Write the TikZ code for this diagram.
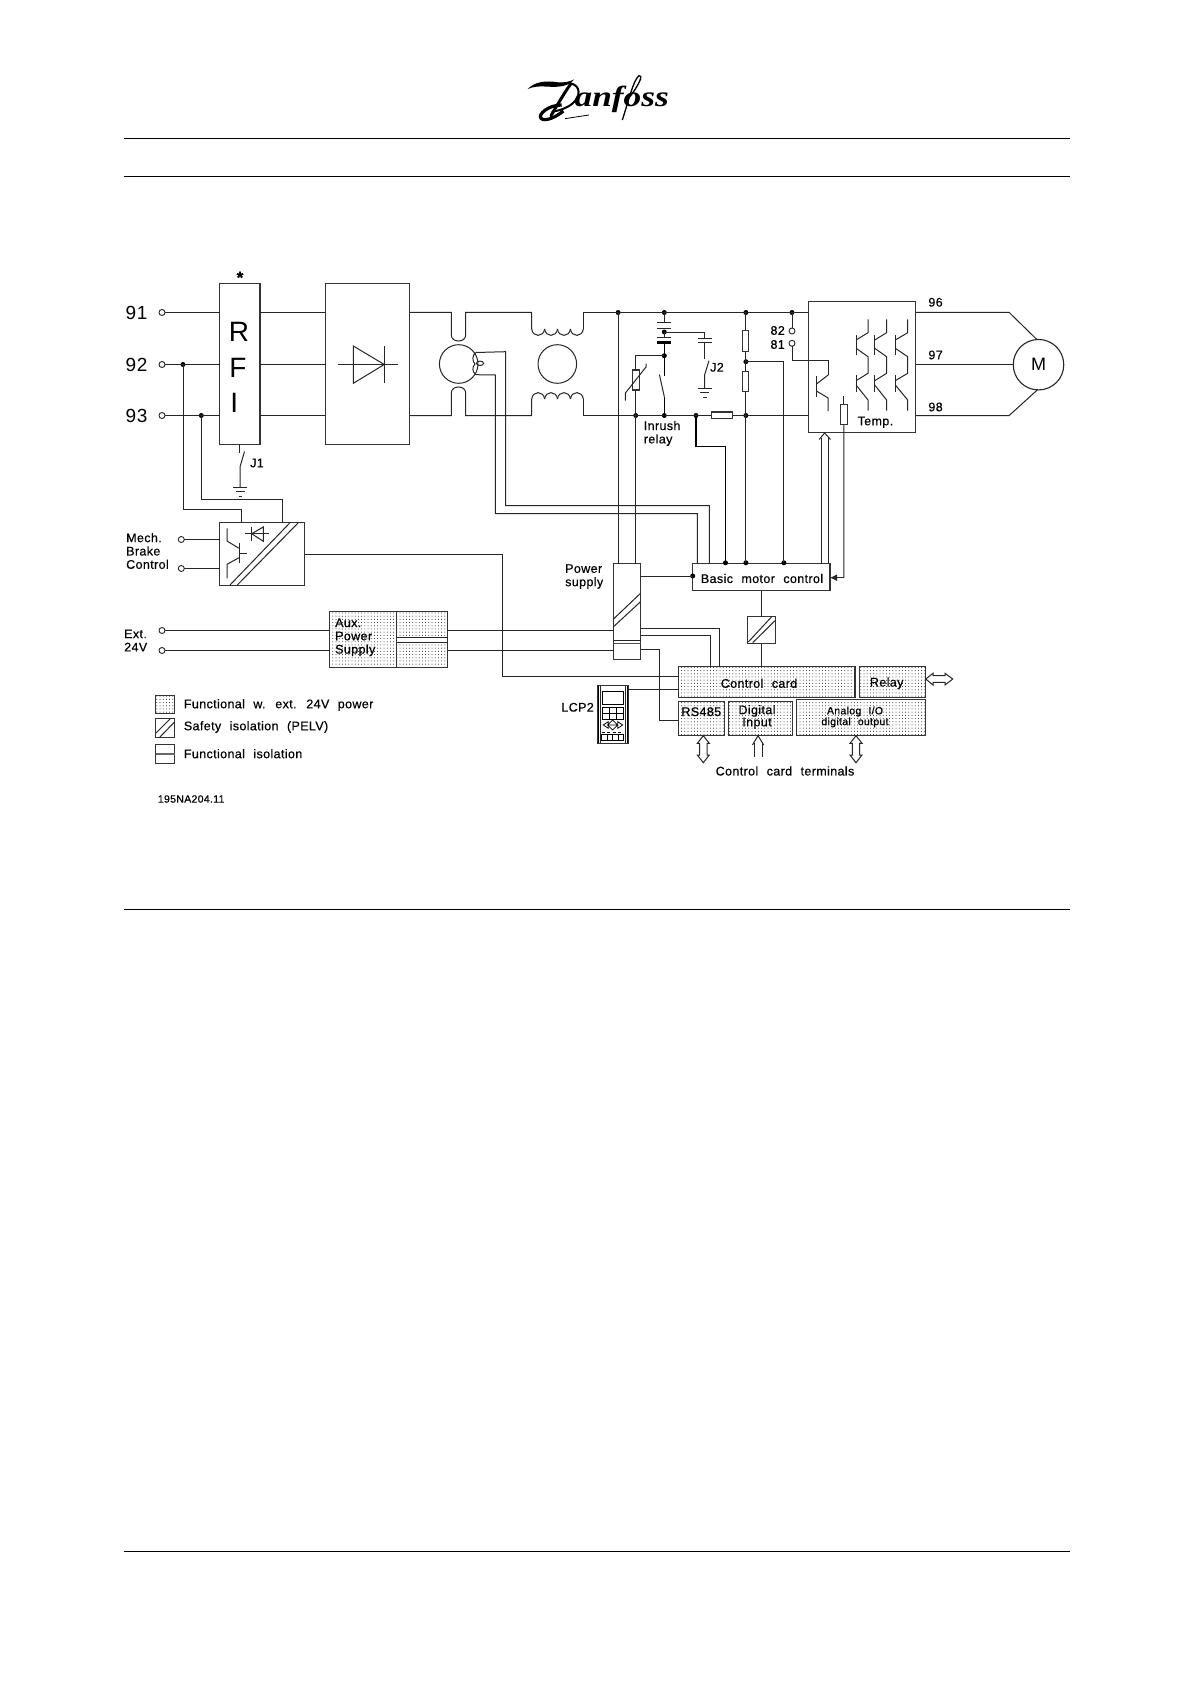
\documentclass[tikz,border=0pt]{standalone}
\usepackage{fontspec}
\setmainfont[LetterSpace=3,WordSpace=2.2,FakeBold=0.45]{Liberation Sans}
\newfontfamily\thinfont[LetterSpace=3]{Liberation Sans}
\newfontfamily\logofont{Liberation Serif}
\usetikzlibrary{patterns.meta,arrows.meta}
\tikzset{
  wire/.style={line width=1pt,black!85,line join=miter},
  heavy/.style={line width=1.5pt,black},
  boxb/.style={draw=black!80,line width=1.05pt,rectangle,inner sep=0pt,outer sep=0pt},
  dotted fill/.style={pattern={Dots[distance=3.2pt,radius=.5pt]},pattern color=black!90},
  jdot/.style={circle,fill=black,inner sep=0pt,minimum size=5pt,outer sep=0pt},
  term/.style={circle,draw=black!85,fill=white,line width=.9pt,inner sep=0pt,minimum size=6pt,outer sep=0pt},
  res/.style={boxb,fill=white},
  lab/.style={font=\fontsize{12.5}{13.3}\selectfont,inner sep=0pt,align=left},
  big/.style={font=\thinfont\fontsize{19}{20}\selectfont,inner sep=0pt},
  huge label/.style={font=\thinfont\fontsize{28}{30}\selectfont,inner sep=0pt},
  rule line/.style={line width=1.05pt,black}
}
% \blk[opts]{name}{x1}{y1}{x2}{y2}
\newcommand{\blk}[6][]{%
  \pgfmathsetmacro{\bw}{#5-#3}\pgfmathsetmacro{\bh}{#6-#4}%
  \pgfmathsetmacro{\bx}{(#3+#5)/2}\pgfmathsetmacro{\by}{(#4+#6)/2}%
  \node[boxb,minimum width=\bw pt,minimum height=\bh pt,#1] (#2) at (\bx,\by) {};}
\begin{document}
\begin{tikzpicture}[x=1pt,y=-1pt]
\useasboundingbox (0,0) rectangle (1191,1685);
\fill[white] (0,0) rectangle (1191,1685);

% page rules
\coordinate (ra) at (124,138.5);  \coordinate (rb) at (1069.5,138.5);
\coordinate (rc) at (124,176.5);  \coordinate (rd) at (1069.5,176.5);
\coordinate (re) at (124,909.5);\coordinate (rf) at (1069.5,909.5);
\coordinate (rg) at (124,1551.5); \coordinate (rh) at (1069.5,1551.5);
\draw[rule line] (ra)--(rb); \draw[rule line] (rc)--(rd);
\draw[rule line] (re)--(rf); \draw[rule line] (rg)--(rh);

% logo
\begin{scope}[shift={(515,65)},x=.3333pt,y=-.3333pt]
  \fill (38,72) .. controls (60,50) and (90,46) .. (130,52) .. controls (150,53) and (165,50) .. (178,43)
        .. controls (168,56) and (150,64) .. (130,65) .. controls (100,68) and (70,58) .. (38,72) -- cycle;
  \draw[line width=3pt,line cap=round] (168,56) .. controls (150,80) and (130,115) .. (108,152);
  \draw[line width=2pt] (165,55) .. controls (198,60) and (198,95) .. (172,116) .. controls (155,130) and (130,138) .. (110,140);
  \draw[line width=3.2pt] (140,120) .. controls (100,120) and (68,148) .. (78,160) .. controls (90,172) and (125,155) .. (145,138);
  \draw[line width=.8pt] (150,161) -- (222,150);
  \node[anchor=base west,inner sep=0pt,font=\logofont\bfseries\itshape\fontsize{29}{30}\selectfont,xscale=1.22,transform shape] (logotext) at (178,124) {anfoss};
  \draw[line width=1.3pt] (322,165) .. controls (340,110) and (355,45) .. (372,32) .. controls (385,28) and (375,55) .. (345,95);
\end{scope}

% main blocks
\blk{rfi}{219.5}{283.5}{260}{444.5}
\blk{rect}{325.5}{283.5}{409.5}{444.5}
\blk{inv}{808.9}{301.5}{915.6}{432.5}
\blk{brk}{219.5}{522.5}{304.5}{585.5}
\blk{bmc}{692.7}{563.5}{830}{590.5}
\blk{ps}{613.5}{563.5}{640.5}{659.5}
\blk{iso}{747.5}{616.5}{775.5}{643.5}
\blk[dotted fill]{auxa}{329.5}{611.5}{396.5}{667.5}
\blk[dotted fill]{auxb}{396.5}{611.5}{447.5}{667.5}
\blk[dotted fill]{cc}{678.5}{666.5}{855}{697.5}
\blk[dotted fill]{rly}{859.5}{666.5}{925.5}{697.5}
\blk[dotted fill]{rs}{678.5}{701.5}{724.5}{735.5}
\blk[dotted fill]{dig}{728.5}{701.5}{792.5}{735.5}
\blk[dotted fill]{ana}{796.5}{699.5}{925.5}{735.5}
\node[circle,draw=black!85,line width=1.1pt,minimum size=50.5pt,inner sep=0pt,outer sep=0pt,font=\thinfont\fontsize{18}{20}\selectfont] (mot) at (1038.5,364.7) {M};
\node[circle,draw=black!85,line width=1pt,minimum size=38.6pt,inner sep=0pt,outer sep=0pt] (ct1) at (458.7,364) {};
\node[circle,draw=black!85,line width=1pt,minimum size=38.6pt,inner sep=0pt,outer sep=0pt] (ct2) at (557.3,364) {};

% terminals
\node[term] (t91) at (162,312.5) {};
\node[term] (t92) at (162,364.5) {};
\node[term] (t93) at (162,415.5) {};
\node[term] (tm1) at (181.3,539.5) {};
\node[term] (tm2) at (181.3,568.5) {};
\node[term] (te1) at (162,630.5) {};
\node[term] (te2) at (162,650.5) {};
\node[term] (t82) at (792,331) {};
\node[term] (t81) at (792,343.3) {};

% junctions
\node[jdot] (j92) at (183,364.5) {};
\node[jdot] (j93) at (201.3,415.5) {};
\node[jdot] (ja) at (618.1,312.5) {};
\node[jdot] (jb) at (664.3,312.5) {};
\node[jdot] (jc) at (745.9,312.5) {};
\node[jdot] (jd) at (792,312.5) {};
\node[jdot] (je) at (635.7,415.5) {};
\node[jdot] (jf) at (664.3,415.5) {};
\node[jdot] (jg) at (696,415.5) {};
\node[jdot] (jh) at (745.9,415.5) {};
\node[jdot] (ji) at (664.3,332) {};
\node[jdot] (jj) at (664.3,355.7) {};
\node[jdot] (jk) at (745.9,361.7) {};
\node[jdot] (jl) at (725.5,562.8) {};
\node[jdot] (jm) at (745.9,562.8) {};
\node[jdot] (jn) at (783.9,562.8) {};
\node[jdot] (jo) at (692.7,576) {};

% input wiring
\draw[wire] (t91) -- (t91 -| rfi.west);
\draw[wire] (t92) -- (t92 -| rfi.west);
\draw[wire] (t93) -- (t93 -| rfi.west);
\foreach \n in {t91,t92,t93} \draw[wire] (\n -| rfi.east) -- (\n -| rect.west);
\coordinate (b92) at (241.7,522.5);
\coordinate (b93) at (282.3,522.5);
\draw[wire] (j92.center) |- (241.7,509.5) -- (b92);
\draw[wire] (j93.center) |- (282.3,499.5) -- (b93);
\draw[wire] (tm1) -- (tm1 -| brk.west);
\draw[wire] (tm2) -- (tm2 -| brk.west);
\draw[wire] (te1) -- (te1 -| auxa.west);
\draw[wire] (te2) -- (te2 -| auxa.west);
\draw[wire] (te1 -| auxb.east) -- (te1 -| ps.west);
\draw[wire] (te2 -| auxb.east) -- (te2 -| ps.west);

% J1 switch
\coordinate (g1) at (240,487);
\draw[wire] (rfi.south) -- ++(0,8);
\draw[wire] (244.5,451.5) -- (240,467) -- (g1);
\draw[wire] (233,487) -- (247,487) (236,491.5) -- (244.5,491.5) (238.5,496) -- (242,496);

% DC link
\coordinate (dcA) at (409.5,312.5);
\coordinate (dcB) at (409.5,415.5);
\draw[wire] (dcA) -- (451.3,312.5) -- (451.3,335) .. controls (451.3,343) and (465.7,343) .. (465.7,335) -- (465.7,312.5) -- (531.7,312.5) -- (531.7,329);
\draw[wire] (dcB) -- (451.3,415.5) -- (451.3,393) .. controls (451.3,385) and (465.7,385) .. (465.7,393) -- (465.7,415.5) -- (531.7,415.5) -- (531.7,399);
\foreach \i in {0,1,2,3}{
  \draw[wire] ({531.7+12.9*\i},329) .. controls ({532.7+12.9*\i},337.5) and ({543.6+12.9*\i},337.5) .. ({544.6+12.9*\i},329);
  \draw[wire] ({531.7+12.9*\i},399) .. controls ({532.7+12.9*\i},390.5) and ({543.6+12.9*\i},390.5) .. ({544.6+12.9*\i},399);
}
\draw[wire] (583.3,329) -- (583.3,312.5) -- (jd.center) -- (jd -| inv.west);
\draw[wire] (583.3,399) -- (583.3,415.5) -- (je.center) -- (jh.center) -- (je -| inv.west);

% verticals to supply and motor control
\draw[wire] (ja.center) -- (ja |- ps.north);
\draw[wire] (jj.center) -| (je.center) -- (je |- ps.north);
\draw[wire] (jb.center) -- (664.3,322);
\draw[wire] (ji.center) -- (664.3,337.7);
\draw[heavy] (664.3,342) -- (jj.center) -- (664.3,375.5);
\draw[heavy] (664.3,396.7) -- (jf.center);
\draw[wire] (659.4,374.5) -- (664.3,396.7);
\foreach \y in {322.3,328.3,337.7} \draw[wire] (657.1,\y) -- (671.2,\y);
\draw[line width=2.4pt] (657.1,342.3) -- (671.2,342.3);
\draw[wire] (ji.center) -| (704.9,338.3);
\draw[wire] (697.7,338.3) -- (711.8,338.3) (697.7,342.3) -- (711.8,342.3);
\draw[wire] (704.9,342.3) -- (704.9,359);
\draw[wire] (709,360.7) -- (704.6,375) -- (704.6,388.3);
\draw[wire] (698,388.3) -- (711.6,388.3) (700.4,392.7) -- (709.4,392.7) (703,397.3) -- (706.9,397.3);
\draw[wire] (jc.center) -- (jm.center);
\draw[wire] (jk.center) -| (jn.center);
\draw[heavy] (jg.center) |- (725.5,446.5) -- (jl.center);
\draw[wire] (jd.center) -- (t82);
\draw[wire] (t81) |- (828.2,360.7) -- (828.2,375);

% resistors & varistor
\blk[res]{vr}{632.6}{370}{639.5}{390}
\draw[wire] (625.4,400.5) -- (625.4,393) -- (646,367) -- (646,363.5);
\blk[res]{r1}{742.1}{330.7}{748.7}{351.7}
\blk[res]{r2}{742.1}{371.7}{748.7}{391.3}
\blk[res]{r3}{711.1}{412}{732.5}{418.5}
\blk[res]{rt}{840.2}{404.3}{847.4}{424.7}
\draw[wire] (rt.north) -- ++(0,-8.5);
\coordinate (tt) at (843.8,577.7);
\draw[wire] (rt.south) -- (tt);
\draw[wire,-{Latex[length=7pt,width=7pt]}] (tt) -- (tt -| bmc.east);

% brake chopper transistor
\draw[wire] (828.2,375) -- (816.4,384);
\draw[wire] (816.4,375.7) -- (816.4,396.7);
\draw[wire] (816.4,391) -- (828.2,398) -- (828.2,411);

% inverter bridges
\foreach \xl/\xr in {856.1/868,874.7/886.6,895.3/907.7}{
  \draw[wire] (\xr,319.3) -- (\xr,332.7) -- (\xl,340);
  \draw[wire] (\xl,335) -- (\xl,355);
  \draw[wire] (\xl,348.3) -- (\xr,356.7) -- (\xr,373.3) -- (\xl,380.7);
  \draw[wire] (\xl,375) -- (\xl,391.7);
  \draw[wire] (\xl,385) -- (\xr,400) -- (\xr,410.7);
}

% output
\coordinate (o1) at (1009.2,312.5);
\coordinate (o3) at (1009.2,415.5);
\draw[wire] (o1 -| inv.east) -- (o1) -- (1036.8,339.5);
\draw[wire] (inv.east |- mot) -- (mot.west);
\draw[wire] (o3 -| inv.east) -- (o3) -- (1037.8,389.5);

% double arrow bmc to inverter
\draw[wire] (821,563.5) -- (821,438) (828.3,563.5) -- (828.3,438);
\draw[wire] (819.2,439.5) -- (824.6,433) -- (830.5,439.5);

% sensor wiring
\draw[wire] (476,352.5) -- (505.7,351.7) |- (709.3,505.5) -- (709.3,563.5);
\draw[wire] (476,374.7) -- (495.3,375) |- (697.3,513.5) -- (697.3,563.5);
\draw[wire] (476,352.5) .. controls (472,355) and (472,361) .. (475,364);
\draw[wire] (476,374.7) .. controls (472,372) and (472,367) .. (475,364);
\draw[wire] (480,363.3) ellipse (3.6pt and 2.2pt);

% diode in rectifier
\draw[wire] (338.3,364.5) -- (397.7,364.5);
\draw[wire] (353.3,346) -- (353.3,383.3) -- (384.3,364.5) -- cycle;
\draw[wire] (384.3,346) -- (384.3,383.3);

% brake box inside
\draw[wire] (230,585) -- (290,522.7) (237.3,585) -- (298.3,522.7);
\draw[wire] (227,528.3) -- (227,541) -- (239,548.3);
\draw[wire] (239,543.3) -- (239,563.3);
\draw[wire] (239,553.3) -- (247,553.3);
\draw[wire] (239,557.7) -- (227,564.3) -- (227,578.3);
\draw[wire] (245,533.7) -- (269,533.7);
\draw[wire] (251.7,527) -- (251.7,541.3);
\draw[wire] (251.7,533.7) -- (263.3,527) -- (263.3,541.3) -- cycle;

% brake to control card
\coordinate (ccA) at (678.5,676.5);
\draw[wire] (brk.east |- 0,554.5) -- (502.3,554.5) |- (ccA);

% power supply inside and outputs
\draw[wire] (613.5,619) -- (640.5,593.3) (613.5,626.7) -- (640.5,601.7);
\draw[wire] (613.5,640) -- (640.5,640);
\draw[line width=1.5pt,black!70] (613.5,643.3) -- (640.5,643.3);
\draw[wire] (ps.east |- jo) -- (jo.center);
\coordinate (psA) at (640.5,628.5);
\coordinate (psB) at (640.5,635.5);
\coordinate (psC) at (640.5,649.5);
\draw[wire] (psA) -| (719.3,666.5);
\draw[wire] (psB) -| (710.7,666.5);
\draw[wire] (psC) -| (659.7,720.5) -- (678.5,720.5);

% isolation
\draw[wire] (iso.north |- bmc.south) -- (iso.north);
\draw[wire] (iso.south) -- (iso.south |- cc.north);
\draw[wire] (748.3,642) -- (771.7,616.7) (752.7,642.7) -- (775,620.7);

% arrows on control card
\draw[wire,fill=white] (925.7,679) -- (933,673.3) -- (933,675.7) -- (945,675.7) -- (945,673.3) -- (952.7,679) -- (945,685) -- (945,682.3) -- (933,682.3) -- (933,685) -- cycle;
\foreach \xc in {703.3,856}{
  \draw[wire,fill=white] (\xc,735.7) -- (\xc+6,743.3) -- (\xc+3.7,743.3) -- (\xc+3.7,755) -- (\xc+6,755) -- (\xc,762.7) -- (\xc-6,755) -- (\xc-3.7,755) -- (\xc-3.7,743.3) -- (\xc-6,743.3) -- cycle;
}
\draw[wire] (752.5,745) -- (758,735.7) -- (763.7,745);
\draw[wire] (754,743) -- (754,757.3) (762.3,743) -- (762.3,757.3);

% LCP2
\begin{scope}[shift={(540,550)},x=.3333pt,y=-.3333pt]
  \node[boxb,minimum width=31pt,minimum height=57.6pt,line width=1.2pt] (lcp) at (218.5,493.5) {};
  \draw[wire] (181,407) -- (181,580) (256,407) -- (256,580);
  \draw[line width=1pt] (175,407) -- (175,580) (262,407) -- (262,580);
  \draw[line width=.9pt] (187,425) rectangle (250,463);
  \draw[line width=.9pt] (187,472) rectangle (250,508) (208,472) -- (208,508) (229,472) -- (229,508) (187,490) -- (250,490);
  \draw[line width=.8pt] (190,525) -- (205,515) -- (205,535) -- cycle (248,525) -- (233,515) -- (233,535) -- cycle;
  \draw[line width=.8pt] (218,510) -- (233,525) -- (218,540) -- (203,525) -- cycle (203,525) -- (233,525);
  \draw[line width=.9pt] (185,552) rectangle (250,570) (201,552) -- (201,570) (218,552) -- (218,570) (235,552) -- (235,570);
  \draw[line width=1.3pt,dash pattern=on 3pt off 2.5pt] (185,548) -- (250,548);
\end{scope}
\coordinate (ccB) at (678.5,689.5);
\draw[wire] (ccB -| lcp.east) -- (ccB);

% aux internals
\path[fill=white] (397,637.5) rectangle (447,642.5);
\draw[wire] (auxb.west |- 0,637.5) -- (auxb.east |- 0,637.5);
\draw[wire] (auxb.west |- 0,642.5) -- (auxb.east |- 0,642.5);

% legend
\blk[dotted fill]{lg1}{155.5}{695.5}{174.5}{713.5}
\blk{lg2}{155.5}{718.5}{174.5}{737.5}
\blk{lg3}{155.5}{744.5}{174.5}{763.5}
\draw[wire] (156,733) -- (170.5,718.5) (159.5,737.5) -- (174.5,722);
\draw[line width=2.8pt,black!60] (lg3.west) -- (lg3.east);

% labels
\node[big,anchor=west] (l91) at (125.5,312.5) {91};
\node[big,anchor=west] (l92) at (125.5,364.5) {92};
\node[big,anchor=west] (l93) at (125.5,415.5) {93};
\node[inner sep=0pt,font=\bfseries\fontsize{17}{18}\selectfont] (lstar) at (240,277.5) {*};
\node[huge label] (lR) at (239,331.5) {R};
\node[huge label] (lF) at (238,368) {F};
\node[huge label] (lI) at (234.3,403) {I};
\node[lab,anchor=west] (lj1) at (250,463) {J1};
\node[lab,anchor=west] (lj2) at (710,367.3) {J2};
\node[lab,anchor=east] (l82) at (785,330.5) {82};
\node[lab,anchor=east] (l81) at (785,344.5) {81};
\node[lab,anchor=west] (l96) at (928.2,302.3) {96};
\node[lab,anchor=west] (l97) at (928.2,355) {97};
\node[lab,anchor=west] (l98) at (928.2,407) {98};
\node[lab,anchor=west] (ltemp) at (857.4,422.3) {Temp.};
\node[lab,anchor=west] (linr) at (643.6,433.5) {Inrush\\relay};
\node[lab,anchor=west] (lmech) at (126,551) {Mech.\\Brake\\Control};
\node[lab,anchor=west] (lext) at (124,640.5) {Ext.\\24V};
\node[lab,anchor=west] (lps) at (565,576.5) {Power\\supply};
\node[lab,anchor=west] (laux) at (335,637.3) {Aux.\\Power\\Supply};
\node[lab] (lbmc) at (762,578.5) {Basic motor control};
\node[lab] (lcc) at (759,683.3) {Control card};
\node[lab] (lrl) at (886.7,683.3) {Relay};
\node[lab] (lrs) at (701.3,711.7) {RS485};
\node[lab,align=center,font=\fontsize{12.5}{10}\selectfont] (ldi) at (757,717) {Digital\\Input};
\node[lab,align=center,font=\fontsize{10.5}{9.5}\selectfont] (lan) at (855,717) {Analog I/O\\digital output};
\node[lab] (lterm) at (785,771) {Control card terminals};
\node[lab,anchor=east] (llcp) at (594,707.3) {LCP2};
\node[lab,anchor=west] (lg1t) at (183.7,705) {Functional w. ext. 24V power};
\node[lab,anchor=west] (lg2t) at (183.7,727) {Safety isolation (PELV)};
\node[lab,anchor=west] (lg3t) at (183.7,753.7) {Functional isolation};
\node[lab,anchor=west,font=\fontsize{10.5}{12}\selectfont] (lcode) at (157.7,799) {195NA204.11};
\end{tikzpicture}
\end{document}
